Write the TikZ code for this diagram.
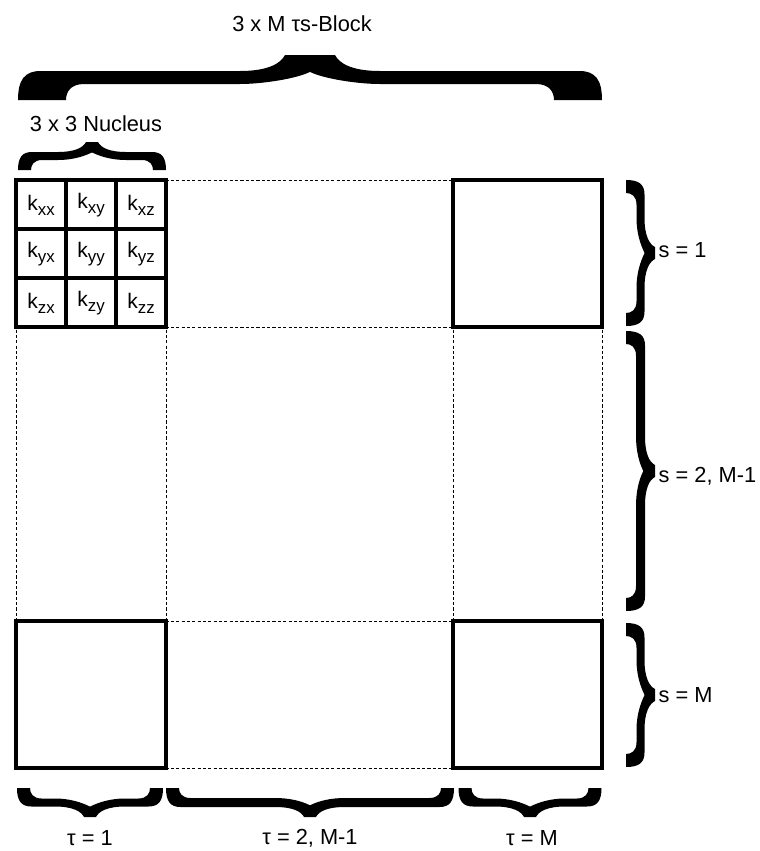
\documentclass[tikz,border=0pt]{standalone}
\usepackage{fontspec}
\setmainfont{Liberation Sans}

\tikzset{
  blk/.style={line width=2.8pt},
  gridline/.style={line width=0.7pt,dash pattern=on 2.2pt off 1.6pt},
  lbl/.style={font=\fontsize{15.5}{18}\selectfont,inner sep=1pt},
  cell/.style={font=\fontsize{15}{18}\selectfont,inner sep=0pt},
  br len/.store in=\brL, br amp/.store in=\brA, br wid/.store in=\brT,
  br foot/.store in=\brF, br tip/.store in=\brW,
  br len=146, br amp=29, br wid=8, br foot=13, br tip=6,
  % heavy curly brace, ends on the x axis, tip towards -y
  cbrace/.pic={
    \pgfmathsetmacro\brh{\brL/2}
    \pgfmathsetmacro\bro{-0.5*\brA-\brT/2}
    \pgfmathsetmacro\bri{-0.5*\brA+\brT/2}
    \pgfmathsetmacro\brn{-\brA+1.3*\brT}
    \pgfmathsetmacro\brm{\brW+\brA}
    \fill (-\brh,0)
      .. controls (-\brh,0.7*\bro) and (-\brh+0.15*\brA,\bro) .. (-\brh+0.5*\brA,\bro)
      -- (-\brm,\bro)
      .. controls (-\brW-0.4*\brA,\bro) and (-\brW-0.1*\brA,-0.8*\brA) .. (-\brW,-\brA)
      -- (\brW,-\brA)
      .. controls (\brW+0.1*\brA,-0.8*\brA) and (\brW+0.4*\brA,\bro) .. (\brm,\bro)
      -- (\brh-0.5*\brA,\bro)
      .. controls (\brh-0.15*\brA,\bro) and (\brh,0.7*\bro) .. (\brh,0)
      -- (\brh-\brF,0)
      .. controls (\brh-\brF,0.5*\bri) and (\brh-\brF-0.1*\brA,\bri) .. (\brh-\brF-0.4*\brA,\bri)
      -- (\brm,\bri)
      .. controls (\brm-0.5*\brA,\bri) and (0.3*\brA,\brn+0.15*\brA) .. (0,\brn)
      .. controls (-0.3*\brA,\brn+0.15*\brA) and (-\brm+0.5*\brA,\bri) .. (-\brm,\bri)
      -- (-\brh+\brF+0.4*\brA,\bri)
      .. controls (-\brh+\brF+0.1*\brA,\bri) and (-\brh+\brF,0.5*\bri) .. (-\brh+\brF,0)
      -- cycle;
  }
}
\newcommand{\ksub}[1]{k\raisebox{-0.45ex}{\fontsize{12}{14}\selectfont #1}}

\begin{document}
\begin{tikzpicture}[x=0.025cm,y=-0.025cm]
\useasboundingbox (0,0) rectangle (760,851);
% dashed grid
\foreach \x in {16,166,453,602}
  \draw[gridline] (\x,180) -- (\x,768);
\foreach \y in {180,327,621,768}
  \draw[gridline] (16,\y) -- (602,\y);
% corner blocks
\draw[blk] (16,180) rectangle (166,327);
\draw[blk] (453,180) rectangle (602,327);
\draw[blk] (16,621) rectangle (166,768);
\draw[blk] (453,621) rectangle (602,768);
% nucleus cells
\foreach \x in {66,116}
  \draw[blk] (\x,180) -- (\x,327);
\foreach \y in {229,278}
  \draw[blk] (16,\y) -- (166,\y);
\foreach \r [count=\i from 0] in {x,y,z}
  \foreach \c [count=\j from 0] in {x,y,z}
    \node[cell] (k\r\c) at ({41+50*\j},{205+49*\i}) {\ksub{\r\c}};
% braces on top
\pic[br len=584,br amp=45,br wid=13,br foot=48,br tip=25] (bblock) at (310,100) {cbrace};
\node[lbl] (block) at (302,24) {3 x M τs-Block};
\pic[br len=148,br amp=28] (bnuc) at (92,170) {cbrace};
\node[lbl] (nucleus) at (96,124) {3 x 3 Nucleus};
% braces on the right
\pic[rotate=-90,br len=146] (bs1) at (626,253) {cbrace};
\node[lbl,anchor=west] (s1) at (657,250) {s = 1};
\pic[rotate=-90,br len=280,br wid=9] (bs2) at (626,471) {cbrace};
\node[lbl,anchor=west] (s2) at (657,476) {s = 2, M-1};
\pic[rotate=-90,br len=144] (bsM) at (626,695) {cbrace};
\node[lbl,anchor=west] (sM) at (657,695) {s = M};
% braces at the bottom
\pic[rotate=180,br len=146] (bt1) at (90,788) {cbrace};
\node[lbl] (t1) at (90,838) {τ = 1};
\pic[rotate=180,br len=288,br wid=9] (bt2) at (310,788) {cbrace};
\node[lbl] (t2) at (310,838) {τ = 2, M-1};
\pic[rotate=180,br len=143] (btM) at (530,788) {cbrace};
\node[lbl] (tM) at (532,838) {τ = M};
\end{tikzpicture}
\end{document}
